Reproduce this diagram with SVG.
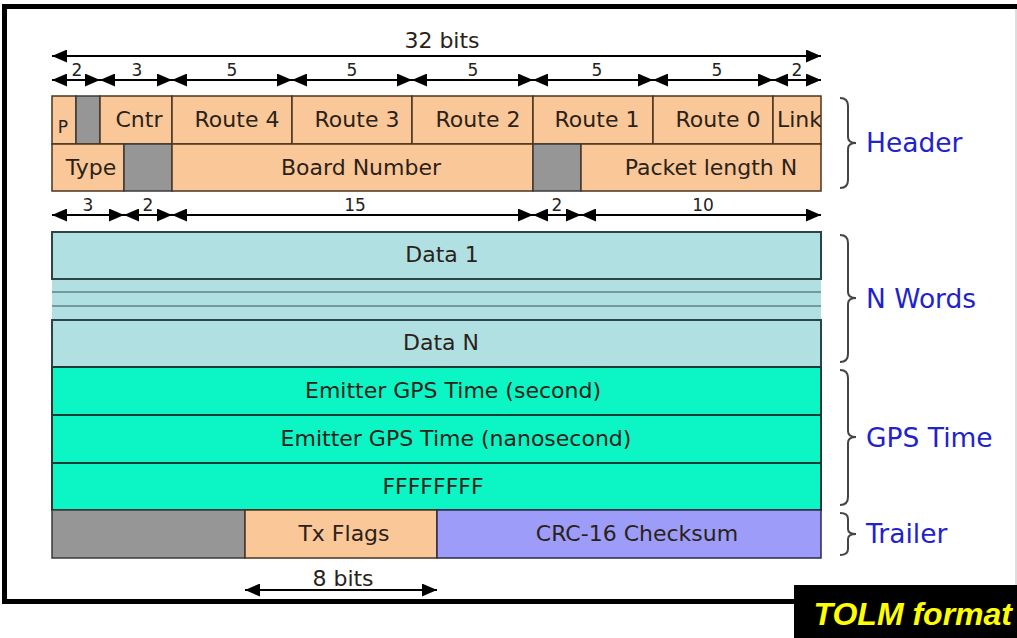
<svg xmlns="http://www.w3.org/2000/svg" width="1017" height="638" viewBox="0 0 1017 638">
<defs>
<marker id="ah" markerUnits="userSpaceOnUse" markerWidth="15" markerHeight="13" viewBox="0 0 15 13" refX="15" refY="6.5" orient="auto-start-reverse"><path d="M0,0 L15,6.5 L0,13 Z" fill="#000"/></marker>
<clipPath id="linkclip"><rect x="773" y="96" width="48" height="48"/></clipPath>
</defs>
<style>
.o{fill:#FAC898;stroke:#4a3520;stroke-width:1.5}
.g{fill:#969696;stroke:#3a3a3a;stroke-width:1.5}
.d{fill:#B1E0E3;stroke:#2c4446;stroke-width:2}
.e{fill:#0CF5C4;stroke:#1f3a36;stroke-width:2}
.c{fill:#9D9CF8;stroke:#2a2a50;stroke-width:1.5}
.t{font-family:"DejaVu Sans",Verdana,sans-serif;font-size:22px;fill:#2a2218;text-anchor:middle}
.n{font-family:"DejaVu Sans",Verdana,sans-serif;font-size:17px;fill:#222;text-anchor:middle}
.lab{font-family:"DejaVu Sans",Verdana,sans-serif;font-size:26.5px;fill:#2222CC}
.ar{stroke:#000;stroke-width:2;fill:none;marker-start:url(#ah);marker-end:url(#ah)}
.br{stroke:#444;stroke-width:2;fill:none}
</style>
<rect width="1017" height="638" fill="#fff"/>
<g id="frame">
<line x1="2" y1="6.5" x2="1017" y2="6.5" stroke="#000" stroke-width="5"/>
<line x1="4.5" y1="4" x2="4.5" y2="604" stroke="#000" stroke-width="5"/>
<line x1="2" y1="601.5" x2="796" y2="601.5" stroke="#000" stroke-width="5"/>
<line x1="1016" y1="9" x2="1016" y2="585" stroke="#bbb" stroke-width="1"/>
</g>
<g id="connectors">
<line class="ar" x1="52" y1="56" x2="821" y2="56"/>
<line class="ar" x1="52" y1="80" x2="100" y2="80"/>
<line class="ar" x1="100" y1="80" x2="172" y2="80"/>
<line class="ar" x1="172" y1="80" x2="292" y2="80"/>
<line class="ar" x1="292" y1="80" x2="412" y2="80"/>
<line class="ar" x1="412" y1="80" x2="533" y2="80"/>
<line class="ar" x1="533" y1="80" x2="653" y2="80"/>
<line class="ar" x1="653" y1="80" x2="773" y2="80"/>
<line class="ar" x1="773" y1="80" x2="821" y2="80"/>
<line class="ar" x1="52" y1="215" x2="124" y2="215"/>
<line class="ar" x1="124" y1="215" x2="172" y2="215"/>
<line class="ar" x1="172" y1="215" x2="533" y2="215"/>
<line class="ar" x1="533" y1="215" x2="581" y2="215"/>
<line class="ar" x1="581" y1="215" x2="821" y2="215"/>
<line class="ar" x1="245" y1="590" x2="437" y2="590"/>
</g>
<g id="dim-labels">
<text class="t" x="442" y="48">32 bits</text>
<text class="n" x="77" y="76">2</text>
<text class="n" x="137" y="76">3</text>
<text class="n" x="232" y="76">5</text>
<text class="n" x="352" y="76">5</text>
<text class="n" x="473" y="76">5</text>
<text class="n" x="597" y="76">5</text>
<text class="n" x="717" y="76">5</text>
<text class="n" x="797" y="76">2</text>
<text class="n" x="88" y="211">3</text>
<text class="n" x="148" y="211">2</text>
<text class="n" x="355" y="211">15</text>
<text class="n" x="557" y="211">2</text>
<text class="n" x="703" y="211">10</text>
<text class="t" x="343" y="586">8 bits</text>
</g>
<g id="header-row1">
<rect class="o" x="52" y="96" width="24" height="48"/>
<text class="n" x="63" y="133">P</text>
<rect class="g" x="76" y="96" width="24" height="48"/>
<rect class="o" x="100" y="96" width="72" height="48"/>
<text class="t" x="139" y="127">Cntr</text>
<rect class="o" x="172" y="96" width="120" height="48"/>
<text class="t" x="237" y="127">Route 4</text>
<rect class="o" x="292" y="96" width="120" height="48"/>
<text class="t" x="357" y="127">Route 3</text>
<rect class="o" x="412" y="96" width="121" height="48"/>
<text class="t" x="478" y="127">Route 2</text>
<rect class="o" x="533" y="96" width="120" height="48"/>
<text class="t" x="597" y="127">Route 1</text>
<rect class="o" x="653" y="96" width="120" height="48"/>
<text class="t" x="718" y="127">Route 0</text>
<rect class="o" x="773" y="96" width="48" height="48"/>
<text class="t" x="777" y="127" clip-path="url(#linkclip)" style="text-anchor:start">Link</text>
</g>
<g id="header-row2">
<rect class="o" x="52" y="144" width="72" height="47"/>
<text class="t" x="91" y="175">Type</text>
<rect class="g" x="124" y="144" width="48" height="47"/>
<rect class="o" x="172" y="144" width="361" height="47"/>
<text class="t" x="361" y="175">Board Number</text>
<rect class="g" x="533" y="144" width="48" height="47"/>
<rect class="o" x="581" y="144" width="240" height="47"/>
<text class="t" x="711" y="175">Packet length N</text>
</g>
<g id="data">
<rect x="52" y="279" width="769" height="40" fill="#B1E0E3"/>
<line x1="52" y1="292" x2="821" y2="292" stroke="#5f8488" stroke-width="1.5"/>
<line x1="52" y1="306" x2="821" y2="306" stroke="#5f8488" stroke-width="1.5"/>
<rect class="d" x="52" y="232" width="769" height="47"/>
<text class="t" x="442" y="262">Data 1</text>
<rect class="d" x="52" y="320" width="769" height="47"/>
<text class="t" x="441" y="350">Data N</text>
</g>
<g id="gps">
<rect class="e" x="52" y="367" width="769" height="48"/>
<text class="t" x="453" y="398">Emitter GPS Time (second)</text>
<rect class="e" x="52" y="415" width="769" height="48"/>
<text class="t" x="456" y="446">Emitter GPS Time (nanosecond)</text>
<rect class="e" x="52" y="463" width="769" height="47"/>
<text class="t" x="433" y="494">FFFFFFFF</text>
</g>
<g id="trailer">
<rect class="g" x="52" y="510" width="193" height="48"/>
<rect class="o" x="245" y="510" width="192" height="48"/>
<text class="t" x="344" y="541">Tx Flags</text>
<rect class="c" x="437" y="510" width="384" height="48"/>
<text class="t" x="637" y="541">CRC-16 Checksum</text>
</g>
<g id="braces">
<path class="br" d="M840,98 Q848,98 848,106 L848,137 Q848,143 856,143 Q848,143 848,149 L848,180 Q848,188 840,188"/>
<path class="br" d="M840,235 Q848,235 848,243 L848,292 Q848,298 856,298 Q848,298 848,304 L848,354 Q848,362 840,362"/>
<path class="br" d="M840,370 Q848,370 848,378 L848,431 Q848,437 856,437 Q848,437 848,443 L848,497 Q848,505 840,505"/>
<path class="br" d="M840,513 Q848,513 848,519 L848,529 Q848,534 856,534 Q848,534 848,539 L848,549 Q848,555 840,555"/>
</g>
<g id="section-labels">
<text class="lab" x="866" y="152">Header</text>
<text class="lab" x="866" y="308">N Words</text>
<text class="lab" x="866" y="447">GPS Time</text>
<text class="lab" x="866" y="543">Trailer</text>
</g>
<g id="title">
<rect x="794" y="585" width="223" height="53" fill="#000"/>
<text x="1012" y="625" font-family="'Liberation Sans',Arial,sans-serif" font-size="32" font-weight="bold" font-style="italic" fill="#FFFF00" text-anchor="end">TOLM format</text>
</g>
</svg>
